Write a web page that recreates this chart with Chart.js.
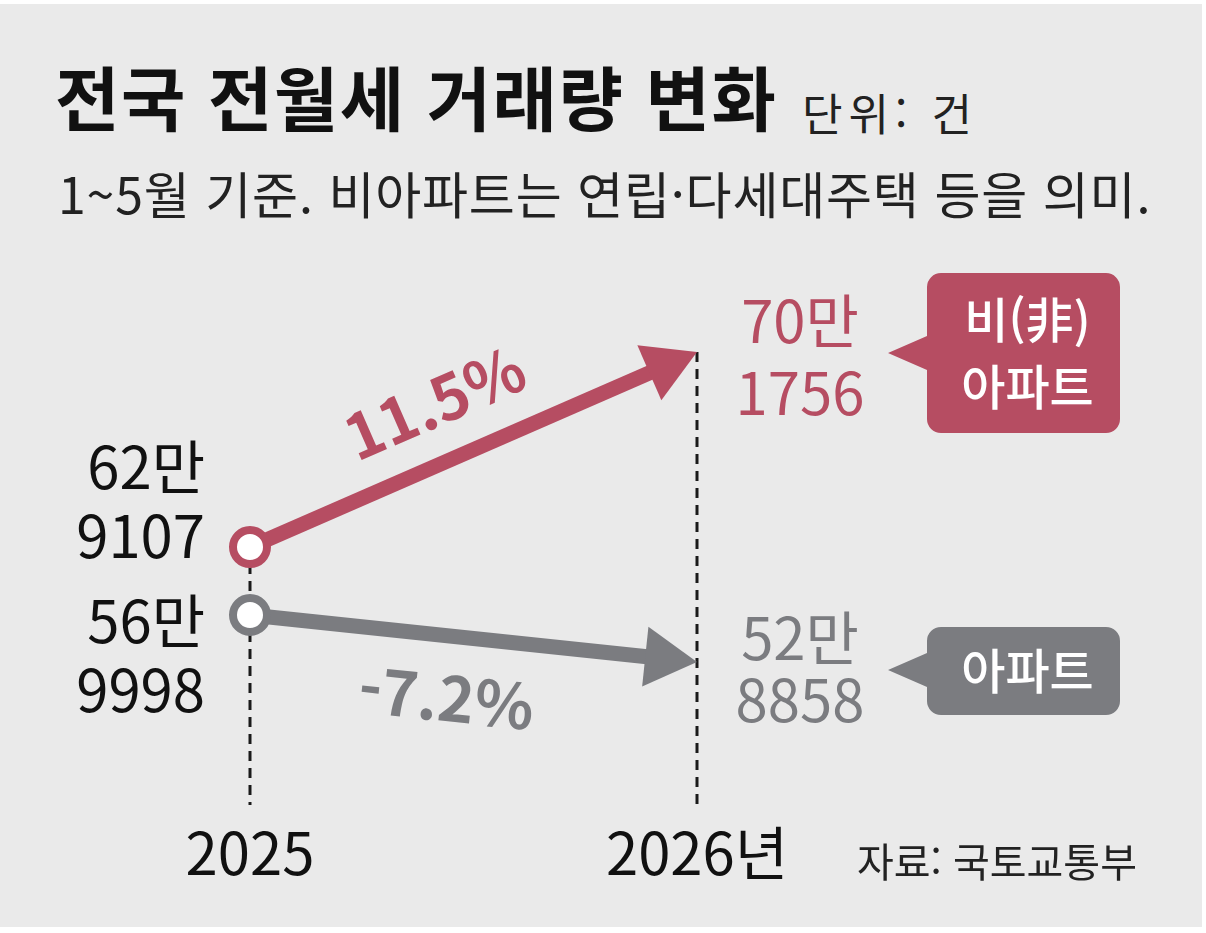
<!DOCTYPE html>
<html lang="ko">
<head>
<meta charset="UTF-8">
<title>전국 전월세 거래량 변화</title>
<script src="https://cdn.jsdelivr.net/npm/chart.js"></script>
<style>
  body { margin: 0; background: #fff; width: 1206px; height: 933px; overflow: hidden; font-family: "Noto Sans CJK KR", sans-serif; }
  #panel { position: absolute; left: 0; top: 4px; width: 1202px; height: 923px; background: #eaeaea; }
  #chart { position: absolute; left: 0; top: 0; }
  .txt { position: absolute; white-space: nowrap; line-height: 1; }
  #title { left: 55px; top: 61px; font-size: 70px; font-weight: 700; color: #111; letter-spacing: 1.5px; }
  #unit { left: 802px; top: 90px; font-size: 44px; color: #222; letter-spacing: 6px; }
  #sub { left: 58px; top: 167px; font-size: 50px; color: #222; letter-spacing: 0.8px; }
  #source { left: 857px; top: 840px; font-size: 40px; color: #222; }
</style>
</head>
<body>
<div id="panel"></div>
<div class="txt" id="title">전국 전월세 거래량 변화</div>
<div class="txt" id="unit">단위: 건</div>
<div class="txt" id="sub">1~5월 기준. 비아파트는 연립·다세대주택 등을 의미.</div>
<canvas id="chart" width="1206" height="933"></canvas>
<div class="txt" id="source">자료: 국토교통부</div>

<script>
// 데이터
const years = ['2025', '2026'];
const nonApt = [629107, 701756];   // 비(非)아파트
const apt = [569998, 528858];      // 아파트
const changeLabels = ['11.5%', '-7.2%'];
const nonAptName = ['비(非)', '아파트'];
const aptName = ['아파트'];

const RED = '#b64d62';
const GRAY = '#7b7c80';
const FONT = '"Noto Sans CJK KR", sans-serif';

// 라벨 위치 (그림에 맞춘 값)
const looks = [
    { color: RED, startLines: [-58, 11], endLines: [-9, 63], pct: [-39, -47], box: [-79, 81], tipDy: 1, name: nonAptName },
    { color: GRAY, startLines: [28, 97], endLines: [-2, 60], pct: [-27, 59], box: [-35, 53], tipDy: 8, name: aptName }
];
const HEAD_LEN = 52, HEAD_HALF = 30;

function splitMan(v) {
    return [Math.floor(v / 10000) + '만', String(v % 10000).padStart(4, '0')];
}

function arrowGeom(meta) {
    const p0 = meta.data[0], p1 = meta.data[meta.data.length - 1];
    const a = Math.atan2(p1.y - p0.y, p1.x - p0.x);
    return { x: p1.x, y: p1.y, a: a, cos: Math.cos(a), sin: Math.sin(a) };
}

const slopePlugin = {
    id: 'slope',
    beforeDatasetsDraw(chart) {
        const ctx = chart.ctx;
        const xs = chart.scales.x;
        const top = chart.getDatasetMeta(0);
        ctx.save();
        ctx.strokeStyle = '#1a1a1a';
        ctx.lineWidth = 3;
        ctx.setLineDash([10, 7]);
        years.forEach((y, i) => {
            const x = xs.getPixelForValue(i);
            ctx.beginPath();
            ctx.moveTo(x, top.data[i].y);
            ctx.lineTo(x, chart.chartArea.bottom);
            ctx.stroke();
        });
        ctx.restore();
    },
    beforeDatasetDraw(chart, args) {
        // 화살촉 앞쪽으로 선이 삐져나오지 않도록 잘라냄
        const g = arrowGeom(args.meta);
        const ctx = chart.ctx;
        const bx = g.x - g.cos * (HEAD_LEN - 2), by = g.y - g.sin * (HEAD_LEN - 2);
        const nx = -g.sin, ny = g.cos;
        ctx.save();
        ctx.beginPath();
        ctx.rect(0, 0, chart.width, chart.height);
        ctx.moveTo(bx + nx * 40, by + ny * 40);
        ctx.lineTo(bx + nx * 40 + g.cos * 120, by + ny * 40 + g.sin * 120);
        ctx.lineTo(bx - nx * 40 + g.cos * 120, by - ny * 40 + g.sin * 120);
        ctx.lineTo(bx - nx * 40, by - ny * 40);
        ctx.closePath();
        ctx.clip('evenodd');
    },
    afterDatasetDraw(chart) {
        chart.ctx.restore();
    },
    afterDatasetsDraw(chart) {
        const ctx = chart.ctx;
        chart.data.datasets.forEach((ds, di) => {
            const meta = chart.getDatasetMeta(di);
            const lk = looks[di];
            const g = arrowGeom(meta);
            const nx = -g.sin, ny = g.cos;
            const bx = g.x - g.cos * HEAD_LEN, by = g.y - g.sin * HEAD_LEN;

            // 화살촉
            ctx.save();
            ctx.fillStyle = lk.color;
            ctx.beginPath();
            ctx.moveTo(g.x, g.y);
            ctx.lineTo(bx + nx * HEAD_HALF, by + ny * HEAD_HALF);
            ctx.lineTo(bx - nx * HEAD_HALF, by - ny * HEAD_HALF);
            ctx.closePath();
            ctx.fill();
            ctx.restore();

            const p0 = meta.data[0], p1 = meta.data[1];

            // 값 라벨
            ctx.save();
            ctx.font = '58px ' + FONT;
            ctx.textBaseline = 'alphabetic';
            ctx.fillStyle = '#111';
            ctx.textAlign = 'right';
            splitMan(ds.data[0]).forEach((t, k) => ctx.fillText(t, p0.x - 45, p0.y + lk.startLines[k]));
            ctx.fillStyle = lk.color;
            ctx.textAlign = 'center';
            splitMan(ds.data[1]).forEach((t, k) => ctx.fillText(t, p1.x + 103, p1.y + lk.endLines[k]));
            ctx.restore();

            // 증감률
            ctx.save();
            ctx.translate((p0.x + p1.x) / 2 + lk.pct[0], (p0.y + p1.y) / 2 + lk.pct[1]);
            ctx.rotate(g.a);
            ctx.font = 'bold 62px ' + FONT;
            ctx.fillStyle = lk.color;
            ctx.textAlign = 'center';
            ctx.textBaseline = 'middle';
            ctx.fillText(changeLabels[di], 0, 0);
            ctx.restore();

            // 말풍선
            const left = p1.x + 230, right = p1.x + 423;
            const topY = p1.y + lk.box[0], botY = p1.y + lk.box[1];
            const tipX = p1.x + 191, tipY = p1.y + lk.tipDy;
            const r = 14;
            ctx.save();
            ctx.fillStyle = lk.color;
            ctx.beginPath();
            ctx.moveTo(left + r, topY);
            ctx.arcTo(right, topY, right, botY, r);
            ctx.arcTo(right, botY, left, botY, r);
            ctx.arcTo(left, botY, left, topY, r);
            ctx.lineTo(left, tipY + 17);
            ctx.lineTo(tipX, tipY);
            ctx.lineTo(left, tipY - 17);
            ctx.arcTo(left, topY, right, topY, r);
            ctx.closePath();
            ctx.fill();
            ctx.fillStyle = '#fff';
            ctx.font = '500 48px ' + FONT;
            ctx.textAlign = 'center';
            ctx.textBaseline = 'middle';
            const cx = (left + right) / 2 + 4, cy = (topY + botY) / 2;
            const n = lk.name.length;
            lk.name.forEach((t, k) => ctx.fillText(t, cx, cy + (k - (n - 1) / 2) * 67));
            ctx.restore();
        });
    }
};

function lineSet(label, data, axis, color) {
    return {
        label: label,
        data: data,
        yAxisID: axis,
        borderColor: color,
        borderWidth: 15,
        borderCapStyle: 'butt',
        tension: 0,
        clip: false,
        pointRadius: [17, 0],
        pointBorderWidth: 8,
        pointBorderColor: color,
        pointBackgroundColor: '#fff'
    };
}

new Chart(document.getElementById('chart'), {
    type: 'line',
    data: {
        labels: years,
        datasets: [
            lineSet('비(非)아파트', nonApt, 'yR', RED),
            lineSet('아파트', apt, 'yG', GRAY)
        ]
    },
    options: {
        responsive: false,
        animation: false,
        events: [],
        layout: { padding: { left: 250, right: 509, top: 280, bottom: 0 } },
        plugins: { legend: { display: false }, tooltip: { enabled: false } },
        scales: {
            x: {
                offset: false,
                grid: { display: false, drawTicks: false },
                border: { display: false },
                ticks: {
                    autoSkip: false,
                    maxRotation: 0,
                    padding: 13,
                    color: '#111',
                    font: { size: 58, family: FONT },
                    callback: (v, i) => i === years.length - 1 ? years[i] + '년' : years[i]
                },
                afterFit(s) { s.height = 128; }
            },
            // 두 계열을 그림 속 위치에 맞추기 위한 별도 축
            yR: { display: false, min: 533000, max: 728600 },
            yG: { display: false, min: 403700, max: 863200 }
        }
    },
    plugins: [slopePlugin]
});
</script>
</body>
</html>
